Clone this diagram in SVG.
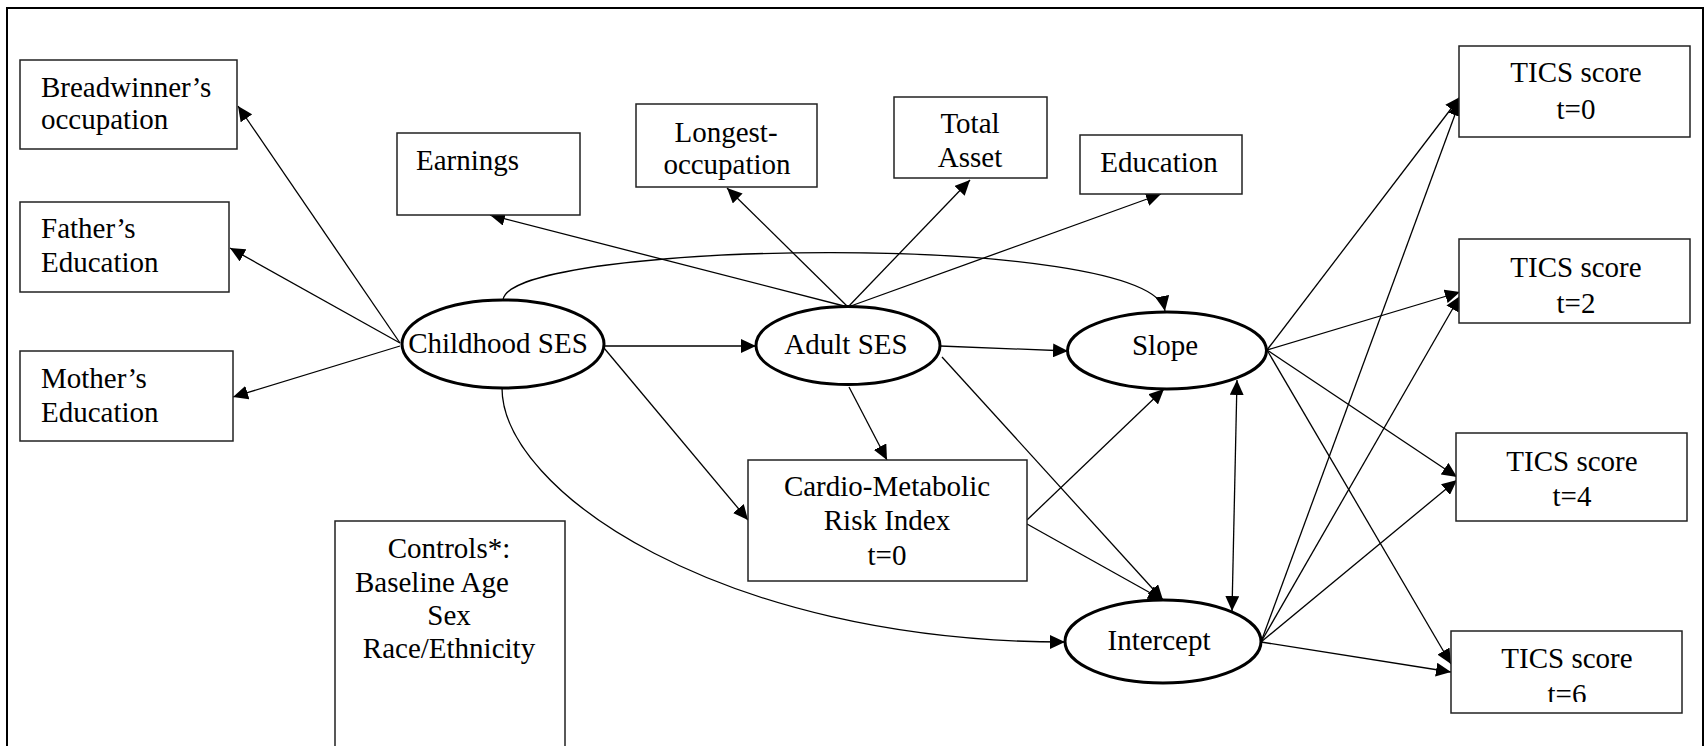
<svg xmlns="http://www.w3.org/2000/svg" width="1705" height="746" viewBox="0 0 1705 746">
<style>
.box{fill:#fff;stroke:#222;stroke-width:1.5}
.ell{fill:#fff;stroke:#000;stroke-width:3}
.t{font-family:"Liberation Serif","Times New Roman",serif;font-size:29px;fill:#000}
.m{text-anchor:middle}
.c{fill:none;stroke:#000;stroke-width:1.3;marker-end:url(#arr)}
.bi{marker-start:url(#arr)}
</style>
<defs>
<marker id="arr" markerUnits="userSpaceOnUse" markerWidth="15" markerHeight="14" viewBox="0 0 15 14" refX="15" refY="7" orient="auto-start-reverse">
<path d="M0,0 L15,7 L0,14 z" fill="#000"/>
</marker>
<clipPath id="clip6"><rect x="1451" y="631" width="231" height="71"/></clipPath>
</defs>
<rect width="1705" height="746" fill="#fff"/>
<path d="M7,746 V8 H1703 V746" fill="none" stroke="#000" stroke-width="2"/>

<g id="connectors">
<line class="c" x1="400" y1="343" x2="238" y2="106"/>
<line class="c" x1="400" y1="343" x2="230" y2="248"/>
<line class="c" x1="400" y1="346" x2="233" y2="397"/>
<line class="c" x1="604" y1="346" x2="756" y2="346"/>
<line class="c" x1="604" y1="348" x2="748" y2="520"/>
<line class="c" x1="848" y1="307" x2="490" y2="215"/>
<line class="c" x1="848" y1="307" x2="727" y2="188"/>
<line class="c" x1="848" y1="307" x2="970" y2="180"/>
<line class="c" x1="848" y1="307" x2="1161" y2="194"/>
<line class="c" x1="940" y1="346" x2="1068" y2="351"/>
<line class="c" x1="942" y1="357" x2="1163" y2="600"/>
<line class="c" x1="849" y1="387" x2="887" y2="460"/>
<line class="c" x1="1027" y1="520" x2="1164" y2="389"/>
<line class="c" x1="1027" y1="524" x2="1163" y2="600"/>
<line class="c" x1="1267" y1="350" x2="1460" y2="97"/>
<line class="c" x1="1267" y1="350" x2="1460" y2="292"/>
<line class="c" x1="1267" y1="350" x2="1457" y2="477"/>
<line class="c" x1="1267" y1="350" x2="1451" y2="664"/>
<line class="c" x1="1261" y1="642" x2="1460" y2="101"/>
<line class="c" x1="1261" y1="642" x2="1460" y2="296"/>
<line class="c" x1="1261" y1="642" x2="1457" y2="480"/>
<line class="c" x1="1261" y1="642" x2="1451" y2="672"/>
<line class="c bi" x1="1237" y1="380" x2="1232" y2="611"/>
<path class="c" d="M503,300 C510,240 1150,230 1165,311"/>
<path class="c" d="M502,388 C502,490 720,642 1065,642"/>
</g>

<g id="breadwinner"><rect class="box" x="20" y="60" width="217" height="89"/>
<text class="t" x="41" y="97">Breadwinner’s</text><text class="t" x="41" y="129">occupation</text></g>
<g id="father"><rect class="box" x="20" y="202" width="209" height="90"/>
<text class="t" x="41" y="238">Father’s</text><text class="t" x="41" y="272">Education</text></g>
<g id="mother"><rect class="box" x="20" y="351" width="213" height="90"/>
<text class="t" x="41" y="388">Mother’s</text><text class="t" x="41" y="422">Education</text></g>

<g id="earnings"><rect class="box" x="397" y="133" width="183" height="82"/>
<text class="t" x="416" y="170">Earnings</text></g>
<g id="longest"><rect class="box" x="636" y="104" width="181" height="83"/>
<text class="t m" x="726" y="142">Longest-</text><text class="t m" x="727" y="174">occupation</text></g>
<g id="totalasset"><rect class="box" x="894" y="97" width="153" height="81"/>
<text class="t m" x="970" y="133">Total</text><text class="t m" x="970" y="167">Asset</text></g>
<g id="education"><rect class="box" x="1080" y="135" width="162" height="59"/>
<text class="t m" x="1159" y="172">Education</text></g>

<g id="tics0"><rect class="box" x="1459" y="46" width="231" height="91"/>
<text class="t m" x="1576" y="82">TICS score</text><text class="t m" x="1576" y="119">t=0</text></g>
<g id="tics2"><rect class="box" x="1459" y="239" width="231" height="84"/>
<text class="t m" x="1576" y="277">TICS score</text><text class="t m" x="1576" y="313">t=2</text></g>
<g id="tics4"><rect class="box" x="1456" y="433" width="231" height="88"/>
<text class="t m" x="1572" y="471">TICS score</text><text class="t m" x="1572" y="506">t=4</text></g>
<g id="tics6"><rect class="box" x="1451" y="631" width="231" height="82"/>
<text class="t m" x="1567" y="668">TICS score</text><text class="t m" x="1567" y="704" clip-path="url(#clip6)">t=6</text></g>

<g id="cardio"><rect class="box" x="748" y="460" width="279" height="121"/>
<text class="t m" x="887" y="496">Cardio-Metabolic</text><text class="t m" x="887" y="530">Risk Index</text><text class="t m" x="887" y="565">t=0</text></g>

<g id="controls"><rect class="box" x="335" y="521" width="230" height="240"/>
<text class="t m" x="449" y="558">Controls*:</text>
<text class="t" x="355" y="592">Baseline Age</text>
<text class="t m" x="449" y="625">Sex</text>
<text class="t m" x="449" y="658">Race/Ethnicity</text></g>

<g id="childhood"><ellipse class="ell" cx="503" cy="344" rx="101" ry="44"/>
<text class="t m" x="498" y="353">Childhood SES</text></g>
<g id="adult"><ellipse class="ell" cx="848" cy="345.5" rx="92" ry="39"/>
<text class="t m" x="846" y="354">Adult SES</text></g>
<g id="slope"><ellipse class="ell" cx="1167" cy="350.5" rx="99.5" ry="38.5"/>
<text class="t m" x="1165" y="355">Slope</text></g>
<g id="intercept"><ellipse class="ell" cx="1163" cy="641.5" rx="98" ry="41.5"/>
<text class="t m" x="1159" y="650">Intercept</text></g>
</svg>
